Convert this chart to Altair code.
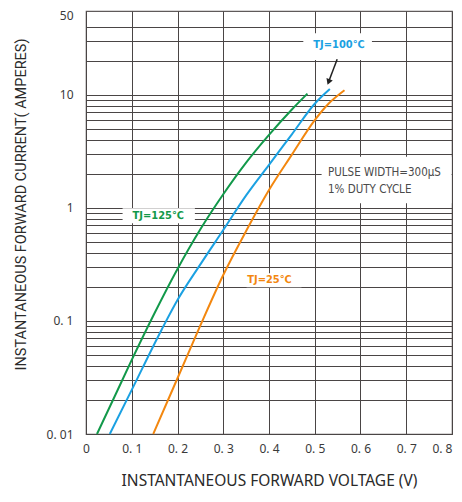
import altair as alt
import pandas as pd

# ---- data ----
SERIES = ["TJ=125℃", "TJ=100℃", "TJ=25℃"]
COLORS = ["#12994a", "#1ba1e2", "#f3870f"]

V_125 = [0.024, 0.06, 0.1, 0.15, 0.2, 0.25, 0.3, 0.35, 0.4, 0.45, 0.484]
I_125 = [0.01, 0.0204, 0.0452, 0.1175, 0.288, 0.646, 1.318, 2.512, 4.416, 7.41, 10.23]
V_100 = [0.052, 0.1, 0.165, 0.2, 0.25, 0.3, 0.35, 0.4, 0.45, 0.5, 0.533]
I_100 = [0.01, 0.02455, 0.0832, 0.1531, 0.3162, 0.6368, 1.288, 2.399, 4.467, 8.318, 11.22]
V_25 = [0.147, 0.2, 0.25, 0.3, 0.35, 0.4, 0.45, 0.5, 0.53, 0.565]
I_25 = [0.01, 0.0311, 0.0912, 0.2547, 0.6237, 1.436, 2.951, 5.957, 8.318, 10.96]

X_TICKS = [0, 0.1, 0.2, 0.3, 0.4, 0.5, 0.6, 0.7, 0.8]
Y_GRID = [0.01, 0.02, 0.03, 0.04, 0.05, 0.06, 0.07, 0.08, 0.09,
          0.1, 0.2, 0.3, 0.4, 0.5, 0.6, 0.7, 0.8, 0.9,
          1, 2, 3, 4, 5, 6, 7, 8, 9,
          10, 20, 30, 40, 50]

# series labels (text centre) and their white boxes
LABEL_V = [0.158, 0.553, 0.401]
LABEL_I = [0.85, 27.5, 0.23]
BOX_V1 = [0.080, 0.475, 0.351]
BOX_V2 = [0.238, 0.625, 0.471]
BOX_I1 = [0.73, 20.3, 0.198]
BOX_I2 = [0.99, 34.9, 0.264]

NOTE_LINES = ["PULSE WIDTH=300μS", "1% DUTY CYCLE"]
NOTE_V = [0.529, 0.529]
NOTE_I = [2.02, 1.44]
NOTE_BOX_V = [0.515, 0.799]
NOTE_BOX_I = [1.10, 2.83]

ARROW_V = [0.549, 0.531]
ARROW_I = [20.6, 13.2]

# ---- tables ----
rows = []
for s, vs, is_ in zip(SERIES, [V_125, V_100, V_25], [I_125, I_100, I_25]):
    for v, i in zip(vs, is_):
        rows.append({"series": s, "V": v, "I": i})
curves = pd.DataFrame(rows)

labels = pd.DataFrame({"series": SERIES, "V": LABEL_V, "I": LABEL_I,
                       "V2": BOX_V2, "I2": BOX_I2, "V1": BOX_V1, "I1": BOX_I1})
notes = pd.DataFrame({"txt": NOTE_LINES, "V": NOTE_V, "I": NOTE_I})
note_box = pd.DataFrame({"V": [NOTE_BOX_V[0]], "V2": [NOTE_BOX_V[1]],
                         "I": [NOTE_BOX_I[0]], "I2": [NOTE_BOX_I[1]]})
arrow = pd.DataFrame({"V": ARROW_V, "I": ARROW_I, "o": [0, 1]})

TICK_FONT = "Noto Sans"
LABEL_FONT = "DejaVu Sans Condensed"

xscale = alt.Scale(domain=[0, 0.8], nice=False)
yscale = alt.Scale(type="log", domain=[0.01, 55], nice=False)
cscale = alt.Scale(domain=SERIES, range=COLORS)

x_axis = alt.Axis(
    values=X_TICKS, grid=True, ticks=False, domain=False,
    labelExpr="datum.value == 0 ? '0' : replace(format(datum.value, '.1f'), '.', '. ')",
    labelAlign={"condition": {"test": "datum.value >= 0.8", "value": "right"}, "value": "center"},
    labelFont=TICK_FONT, labelFontSize=12, labelColor="#3a3a3a", labelPadding=9,
    title="INSTANTANEOUS FORWARD VOLTAGE (V)", titleFont="Noto Sans",
    titleFontSize=15.5, titleFontWeight="normal", titleColor="#2a2a2a",
    titlePadding=19, labelFlush=False, labelOverlap=False,
)
y_axis = alt.Axis(
    values=Y_GRID, grid=True, ticks=False, domain=False,
    gridOpacity={"condition": {"test": "datum.value == 50", "value": 0}, "value": 1},
    labelExpr=("datum.value == 0.01 ? '0. 01' : datum.value == 0.1 ? '0. 1' : "
               "datum.value == 1 ? '1' : datum.value == 10 ? '10' : "
               "datum.value == 50 ? '50' : ''"),
    labelFont=TICK_FONT, labelFontSize=12, labelColor="#3a3a3a", labelPadding=13,
    labelOverlap=False, labelFlush=False,
    title="INSTANTANEOUS FORWARD CURRENT( AMPERES)", titleFont="Roboto",
    titleFontSize=14.5, titleFontWeight="normal", titleColor="#2a2a2a",
    titlePadding=18, titleY=193,
)

lines = alt.Chart(curves).mark_line(strokeWidth=2, interpolate="monotone").encode(
    x=alt.X("V:Q", scale=xscale, axis=x_axis),
    y=alt.Y("I:Q", scale=yscale, axis=y_axis),
    color=alt.Color("series:N", scale=cscale, legend=None),
    detail="series:N",
)

label_boxes = alt.Chart(labels).mark_rect(color="white").encode(
    x="V1:Q", x2="V2:Q", y="I1:Q", y2="I2:Q",
)
note_rect = alt.Chart(note_box).mark_rect(color="white").encode(
    x="V:Q", x2="V2:Q", y="I:Q", y2="I2:Q",
)
label_text = alt.Chart(labels).mark_text(
    font=LABEL_FONT, fontSize=11, fontWeight="bold"
).encode(
    x="V:Q", y="I:Q", text="series:N",
    color=alt.Color("series:N", scale=cscale, legend=None),
)
note_text = alt.Chart(notes).mark_text(
    align="left", font=LABEL_FONT, fontSize=11.5, color="#4a4a4a"
).encode(x="V:Q", y="I:Q", text="txt:N")

arrow_line = alt.Chart(arrow).mark_line(color="#222222", strokeWidth=1.5).encode(
    x="V:Q", y="I:Q", order="o:Q"
)
arrow_head = alt.Chart(arrow[arrow["o"] == 1]).mark_point(
    shape="triangle", filled=True, color="#222222", size=45, angle=201, opacity=1
).encode(x="V:Q", y="I:Q")

chart = alt.layer(
    lines, label_boxes, note_rect, label_text, note_text, arrow_line, arrow_head
).properties(
    width=366, height=423,
    padding={"left": 78, "top": 3, "right": 2, "bottom": 56},
    autosize=alt.AutoSizeParams(type="none"),
).configure_view(
    stroke="#5f5a5a", strokeWidth=1.2
).configure_axis(
    gridColor="#4a4545", gridWidth=1
)

chart.save("out.html", embed_options={"renderer": "svg", "actions": False})
